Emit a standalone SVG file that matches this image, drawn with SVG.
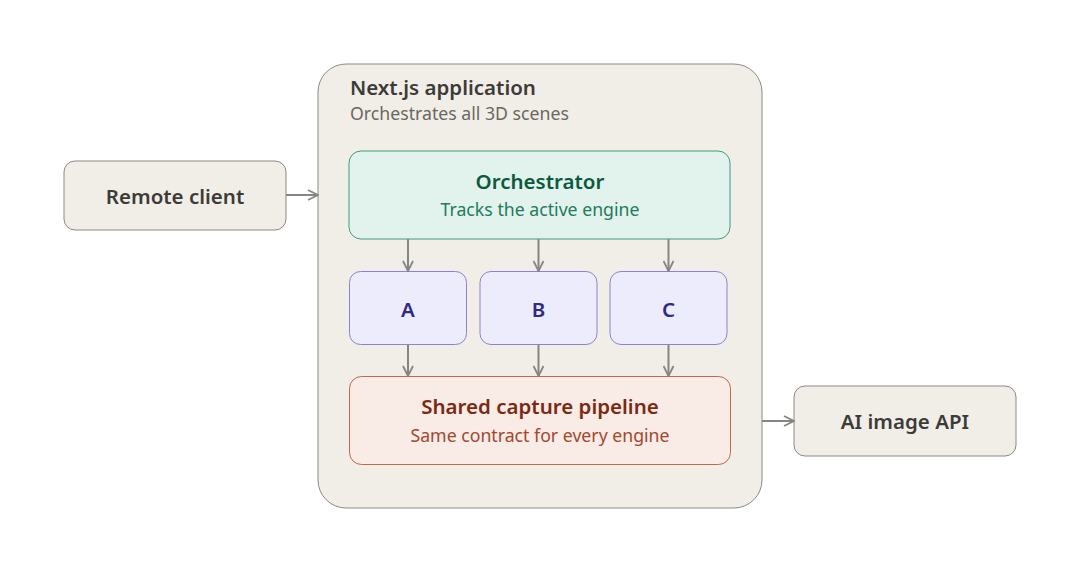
<svg xmlns="http://www.w3.org/2000/svg" width="1080" height="572" viewBox="0 0 1080 572">
<style>
text{font-family:"Noto Sans","Open Sans","Liberation Sans",sans-serif}
.neutral{fill:#f1eee8;stroke:#8c8984;stroke-width:1}
.orch{fill:#e1f3ec;stroke:#3f9a7c;stroke-width:1}
.eng{fill:#ececfc;stroke:#8a82d2;stroke-width:1}
.pipe{fill:#f9ebe6;stroke:#c0684e;stroke-width:1}
.title{font-size:20.5px;font-weight:600;text-anchor:middle}
.sub{font-size:17.7px;text-anchor:middle}
.conn{stroke:#878580;stroke-width:2;fill:none;marker-end:url(#ah)}
</style>
<defs>
<marker id="ah" viewBox="0 0 12 12" refX="11" refY="6" markerWidth="12" markerHeight="12" markerUnits="userSpaceOnUse" orient="auto">
<path d="M1,1 L11,6 L1,11" fill="none" stroke="#878580" stroke-width="1.8"/>
</marker>
</defs>
<rect width="1080" height="572" fill="#ffffff"/>
<g id="app">
<rect class="neutral" x="318" y="64" width="444" height="444" rx="28"/>
<text x="350" y="95" font-size="20.5" font-weight="600" fill="#3d3b38">Next.js application</text>
<text x="350" y="120" font-size="17.7" fill="#6a6763">Orchestrates all 3D scenes</text>
</g>
<g id="remote">
<rect class="neutral" x="64" y="161" width="222" height="69" rx="11"/>
<text class="title" x="175" y="204" fill="#3d3b38">Remote client</text>
</g>
<g id="orchestrator">
<rect class="orch" x="349" y="151" width="381" height="88" rx="12"/>
<text class="title" x="540" y="189" fill="#0c5a3e">Orchestrator</text>
<text class="sub" x="540" y="216" fill="#237a5c">Tracks the active engine</text>
</g>
<g id="engineA">
<rect class="eng" x="349.5" y="271.5" width="117" height="73" rx="11"/>
<text class="title" x="408" y="317" fill="#2f2a82">A</text>
</g>
<g id="engineB">
<rect class="eng" x="480" y="271.5" width="117" height="73" rx="11"/>
<text class="title" x="538.5" y="317" fill="#2f2a82">B</text>
</g>
<g id="engineC">
<rect class="eng" x="610" y="271.5" width="117" height="73" rx="11"/>
<text class="title" x="668.5" y="317" fill="#2f2a82">C</text>
</g>
<g id="pipeline">
<rect class="pipe" x="349.5" y="376.5" width="381" height="88" rx="12"/>
<text class="title" x="540" y="414" fill="#7a2a12">Shared capture pipeline</text>
<text class="sub" x="540" y="442" fill="#a2482e">Same contract for every engine</text>
</g>
<g id="aiapi">
<rect class="neutral" x="794" y="386" width="222" height="70" rx="11"/>
<text class="title" x="905" y="429" fill="#3d3b38">AI image API</text>
</g>
<g id="connectors">
<line class="conn" x1="286" y1="195" x2="318" y2="195"/>
<line class="conn" x1="408" y1="239" x2="408" y2="271"/>
<line class="conn" x1="538.5" y1="239" x2="538.5" y2="271"/>
<line class="conn" x1="668.5" y1="239" x2="668.5" y2="271"/>
<line class="conn" x1="408" y1="345" x2="408" y2="376"/>
<line class="conn" x1="538.5" y1="345" x2="538.5" y2="376"/>
<line class="conn" x1="668.5" y1="345" x2="668.5" y2="376"/>
<line class="conn" x1="762" y1="421" x2="794" y2="421"/>
</g>
</svg>
